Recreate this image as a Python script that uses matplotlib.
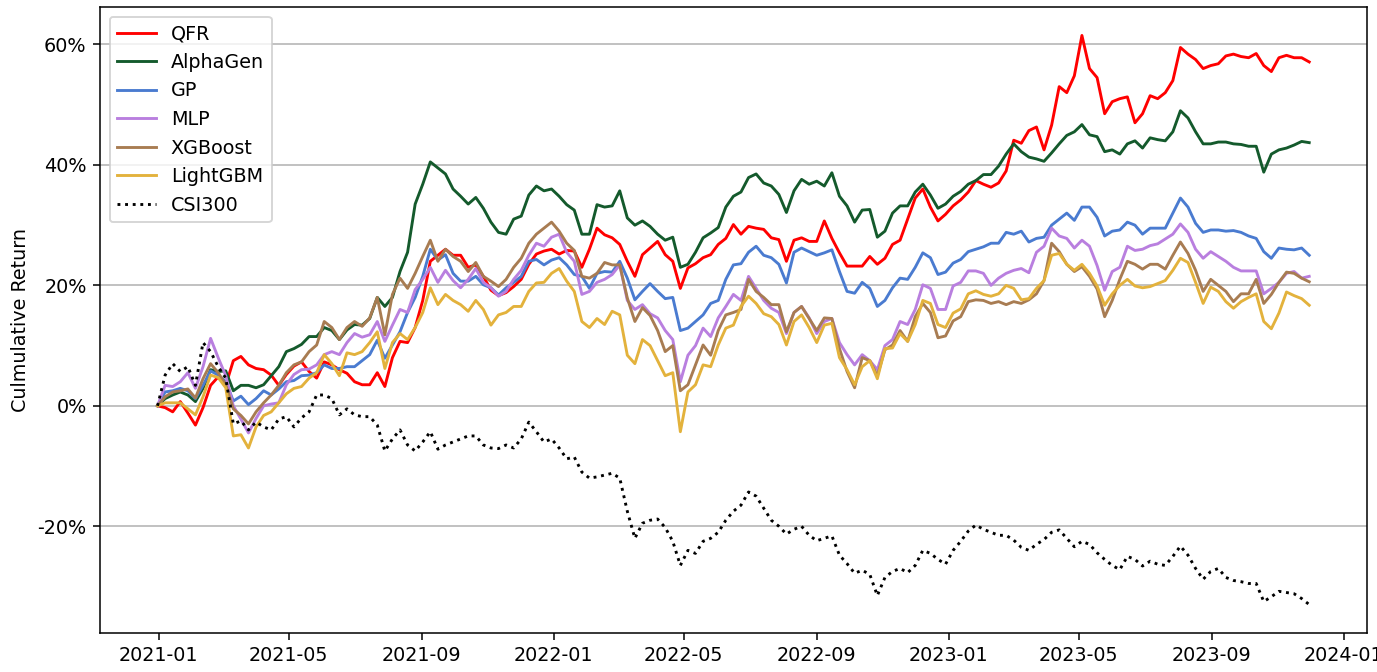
import numpy as np
import pandas as pd
import matplotlib
matplotlib.use("Agg")
import matplotlib.pyplot as plt
import matplotlib.dates as mdates
from matplotlib.ticker import FuncFormatter

# weekly cumulative returns (%)
dates = pd.date_range("2020-12-31", periods=153, freq="7D")

qfr = [0, -0.3, -1.0, 0.7, -1.2, -3.2, -0.3, 3.4, 4.8, 3.4,
       7.5, 8.2, 6.8, 6.2, 6.0, 5.1, 3.4, 5.2, 6.6, 7.3,
       5.7, 4.6, 7.3, 6.8, 6.0, 5.4, 4.0, 3.5, 3.5, 5.5,
       3.2, 8.0, 10.7, 10.5, 13.0, 17.5, 24.0, 25.0, 26.0, 25.0,
       25.0, 23.0, 23.4, 21.5, 19.2, 18.3, 18.8, 19.8, 21.0, 23.5,
       25.2, 25.7, 26.0, 25.2, 25.8, 25.7, 23.0, 26.0, 29.5, 28.4,
       27.9, 26.8, 24.0, 21.5, 25.1, 26.2, 27.3, 25.1, 24.0, 19.5,
       22.9, 23.6, 24.6, 25.1, 26.8, 27.8, 30.1, 28.5, 29.8, 29.5,
       29.3, 27.9, 27.6, 24.0, 27.5, 27.9, 27.3, 27.3, 30.7, 27.8,
       25.4, 23.2, 23.2, 23.2, 24.8, 23.5, 24.5, 26.8, 27.5, 31.0,
       34.5, 36.0, 33.0, 30.7, 31.8, 33.2, 34.2, 35.5, 37.4, 36.8,
       36.3, 37.0, 39.0, 44.1, 43.6, 45.7, 46.3, 42.5, 46.6, 53.0,
       52.0, 54.8, 61.5, 56.0, 54.5, 48.5, 50.5, 51.0, 51.3, 47.0,
       48.5, 51.5, 51.0, 52.0, 54.0, 59.5, 58.4, 57.5, 56.0, 56.5,
       56.8, 58.1, 58.4, 58.0, 57.8, 58.5, 56.5, 55.5, 57.8, 58.2,
       57.8, 57.8, 57.1]

alphagen = [0, 1.2, 1.8, 2.3, 1.8, 0.7, 2.9, 6.0, 5.7, 5.8,
            2.5, 3.4, 3.4, 3.0, 3.5, 5.0, 6.5, 9.0, 9.5, 10.2,
            11.5, 11.5, 13.0, 12.5, 11.0, 12.6, 13.5, 13.4, 14.5, 18.0,
            16.5, 18.0, 22.3, 25.5, 33.5, 36.8, 40.5, 39.5, 38.5, 36.0,
            34.8, 33.5, 34.6, 32.8, 30.5, 28.8, 28.5, 31.0, 31.5, 35.0,
            36.5, 35.7, 36.0, 34.8, 33.4, 32.5, 28.5, 28.5, 33.4, 33.0,
            33.2, 35.7, 31.2, 30.0, 30.7, 29.8, 28.5, 27.5, 28.0, 23.0,
            23.5, 25.5, 27.9, 28.7, 29.6, 33.0, 34.8, 35.5, 37.9, 38.5,
            37.0, 36.5, 35.1, 32.1, 35.7, 37.6, 36.8, 37.3, 36.5, 38.7,
            34.8, 33.2, 30.5, 32.5, 32.6, 28.0, 29.0, 32.0, 33.2, 33.2,
            35.5, 36.8, 35.0, 32.8, 33.5, 34.8, 35.6, 36.8, 37.4, 38.4,
            38.4, 39.8, 41.8, 43.5, 42.2, 41.3, 41.0, 40.6, 42.0, 43.5,
            44.9, 45.5, 46.7, 45.0, 44.7, 42.2, 42.5, 41.8, 43.5, 44.0,
            42.8, 44.5, 44.2, 44.0, 45.5, 49.0, 47.8, 45.5, 43.5, 43.5,
            43.8, 43.8, 43.5, 43.4, 43.1, 43.1, 38.8, 41.8, 42.5, 42.8,
            43.3, 43.9, 43.7]

gp = [0, 2.3, 2.5, 2.9, 2.5, 1.2, 3.4, 5.8, 5.1, 4.0,
      0.8, 1.6, 0.2, 1.2, 2.5, 1.8, 2.8, 4.0, 4.2, 5.0,
      5.1, 5.5, 6.8, 6.2, 6.2, 6.5, 6.5, 7.5, 8.5, 10.9,
      7.9, 10.1, 12.3, 15.5, 18.0, 21.5, 26.0, 24.2, 25.1, 22.0,
      20.7, 20.7, 21.5, 20.1, 19.6, 18.4, 19.6, 20.5, 21.5, 24.0,
      24.3, 23.4, 24.2, 24.6, 23.4, 21.8, 21.5, 19.5, 22.0, 22.3,
      22.2, 24.0, 21.2, 17.6, 19.0, 20.3, 19.0, 17.8, 18.0, 12.5,
      12.9, 14.0, 15.1, 17.0, 17.5, 21.0, 23.4, 23.6, 25.5, 26.5,
      25.0, 24.6, 23.5, 20.4, 25.5, 26.2, 25.6, 25.0, 25.4, 25.9,
      22.3, 19.0, 18.7, 20.5, 19.5, 16.5, 17.5, 19.6, 21.2, 21.0,
      23.0, 25.4, 24.6, 21.8, 22.2, 23.7, 24.3, 25.6, 26.0, 26.4,
      27.0, 27.0, 28.8, 28.5, 29.0, 27.2, 27.8, 28.0, 30.0, 31.0,
      32.0, 30.8, 33.0, 33.0, 31.3, 28.2, 29.0, 29.2, 30.5, 30.0,
      28.5, 29.5, 29.5, 29.5, 32.0, 34.5, 33.0, 30.3, 28.8, 29.2,
      29.2, 29.0, 29.1, 28.8, 28.2, 27.8, 25.6, 24.5, 26.2, 26.0,
      25.9, 26.2, 25.0]

mlp = [0, 3.4, 3.2, 4.0, 5.5, 2.9, 6.5, 11.2, 8.0, 5.0,
       0.0, -2.2, -4.5, -2.1, 0.0, 0.3, 0.5, 3.5, 5.2, 6.0,
       6.1, 6.8, 8.5, 9.0, 8.5, 10.5, 12.0, 11.4, 11.8, 14.0,
       10.7, 13.4, 16.0, 15.5, 19.3, 21.0, 23.0, 20.5, 22.5, 20.8,
       19.6, 21.0, 22.8, 20.5, 19.6, 18.2, 19.0, 21.0, 22.5, 25.0,
       27.0, 26.5, 28.0, 28.5, 25.5, 24.0, 18.5, 19.0, 20.5, 21.0,
       21.8, 23.4, 17.5, 16.0, 16.8, 15.3, 14.6, 12.5, 11.0, 4.0,
       8.4, 10.0, 12.9, 11.5, 14.6, 16.5, 18.5, 17.5, 21.5, 19.5,
       17.5, 16.2, 15.5, 12.0, 15.5, 16.5, 14.6, 12.0, 14.0, 14.5,
       10.5, 8.5, 6.8, 8.5, 7.5, 6.0, 10.0, 11.0, 14.0, 13.5,
       16.0, 20.1, 19.5, 16.0, 16.0, 19.9, 20.5, 22.4, 22.4, 22.0,
       20.0, 21.2, 22.0, 22.5, 22.8, 22.1, 25.5, 26.5, 29.5, 28.2,
       27.8, 26.2, 27.5, 26.5, 23.3, 19.2, 22.3, 23.0, 26.5, 25.8,
       26.0, 26.6, 26.9, 27.7, 28.5, 30.2, 28.8, 26.0, 24.5, 25.6,
       24.8, 24.0, 23.0, 22.4, 22.4, 22.4, 18.6, 19.5, 20.5, 22.0,
       22.3, 21.2, 21.5]

xgboost = [0, 1.5, 2.3, 2.5, 2.8, 1.3, 4.5, 7.0, 5.5, 3.5,
           -0.5, -1.6, -3.0, -1.0, 0.5, 1.8, 3.4, 5.5, 6.8, 7.3,
           9.0, 10.1, 14.0, 13.0, 11.0, 13.0, 14.0, 13.2, 14.6, 18.0,
           11.8, 18.5, 21.2, 19.5, 22.0, 24.8, 27.5, 24.0, 26.0, 24.8,
           24.0, 22.3, 23.8, 21.5, 20.7, 19.8, 21.0, 23.0, 24.5, 27.0,
           28.5, 29.5, 30.5, 29.0, 27.0, 25.8, 21.5, 21.2, 22.0, 23.8,
           23.4, 23.4, 17.9, 14.0, 16.3, 15.0, 12.5, 9.0, 10.0, 2.5,
           3.5, 6.8, 10.1, 8.4, 12.5, 15.1, 15.5, 16.0, 21.0, 19.0,
           18.0, 16.8, 16.8, 12.3, 15.5, 16.5, 14.5, 12.5, 14.6, 14.5,
           9.5, 5.7, 3.0, 8.0, 7.5, 5.0, 9.3, 10.1, 12.5, 10.7,
           14.8, 17.0, 15.5, 11.3, 11.6, 14.1, 14.8, 17.3, 17.6, 17.5,
           17.0, 17.3, 16.8, 17.3, 17.0, 17.6, 18.6, 20.8, 27.0, 25.6,
           23.5, 22.3, 23.1, 21.5, 19.4, 14.8, 17.5, 21.0, 24.0, 23.5,
           22.7, 23.5, 23.5, 22.7, 25.0, 27.2, 25.3, 22.5, 19.0, 21.0,
           20.0, 19.0, 17.3, 18.6, 18.6, 21.0, 17.0, 18.5, 20.5, 22.2,
           22.0, 21.2, 20.6]

lightgbm = [0, 0.5, 0.5, 0.5, -0.5, -1.5, 1.5, 5.1, 4.7, 3.0,
            -5.0, -4.8, -7.0, -3.5, -1.6, -1.0, 0.5, 2.0, 2.9, 3.2,
            4.6, 5.5, 8.5, 7.0, 5.0, 8.8, 8.5, 9.0, 10.5, 12.3,
            6.2, 10.5, 12.0, 11.0, 13.0, 15.5, 19.6, 16.8, 18.5, 17.5,
            16.8, 15.7, 17.5, 16.0, 13.4, 15.1, 15.5, 16.5, 16.5, 19.0,
            20.4, 20.5, 22.0, 22.8, 20.7, 19.0, 14.0, 13.0, 14.5, 13.5,
            15.7, 15.1, 8.4, 7.0, 11.0, 10.0, 7.5, 5.0, 5.5, -4.3,
            2.3, 3.5, 6.8, 6.5, 10.1, 12.9, 13.4, 16.5, 18.2, 17.0,
            15.3, 14.8, 13.5, 10.1, 14.0, 15.1, 13.0, 10.5, 13.4, 13.7,
            8.0, 6.0, 3.5, 6.5, 7.5, 4.5, 9.5, 9.6, 12.0, 10.7,
            13.5, 17.5, 17.0, 13.5, 13.0, 15.4, 16.1, 18.6, 19.1, 18.5,
            18.2, 18.6, 20.0, 19.5, 17.6, 17.8, 19.5, 20.8, 25.0, 25.3,
            23.5, 22.5, 23.5, 22.0, 19.9, 16.7, 18.6, 20.0, 21.0, 19.9,
            19.6, 19.8, 20.3, 20.8, 22.5, 24.5, 23.8, 20.5, 17.0, 19.7,
            19.0, 17.3, 16.2, 17.3, 18.0, 18.6, 14.0, 12.8, 15.4, 18.9,
            18.3, 17.8, 16.7]

csi300 = [0, 5.1, 7.0, 5.7, 6.5, 3.4, 10.5, 9.0, 6.5, 4.6,
          -3.0, -2.5, -4.0, -2.7, -3.5, -4.0, -2.2, -1.8, -3.5, -2.0,
          -1.0, 1.8, 1.8, 1.2, -1.5, -0.5, -1.5, -1.8, -1.8, -3.2,
          -7.5, -5.5, -4.0, -6.5, -7.5, -6.0, -4.3, -7.2, -6.5, -6.0,
          -5.5, -5.0, -5.0, -6.5, -7.0, -7.1, -6.5, -7.0, -5.5, -2.7,
          -4.3, -6.0, -5.5, -7.0, -8.8, -8.5, -11.0, -12.0, -11.8, -11.5,
          -11.2, -12.0, -17.5, -22.0, -19.5, -19.0, -18.8, -20.2, -22.5, -26.5,
          -24.0, -24.5, -22.5, -22.0, -21.0, -19.0, -17.5, -16.5, -14.3, -15.0,
          -17.0, -19.0, -20.0, -21.3, -20.5, -20.0, -21.5, -22.4, -22.0, -21.6,
          -24.8, -26.2, -27.8, -27.3, -28.0, -31.5, -28.5, -27.5, -27.0, -27.7,
          -26.5, -24.0, -24.5, -25.5, -26.3, -24.0, -22.5, -20.8, -19.8, -20.5,
          -21.0, -21.5, -21.5, -22.3, -23.5, -24.0, -23.0, -22.2, -21.0, -20.6,
          -22.0, -23.4, -22.5, -23.0, -24.4, -25.5, -26.5, -27.2, -25.0, -25.5,
          -26.6, -25.8, -26.3, -26.5, -25.0, -23.3, -24.8, -27.0, -28.8, -27.5,
          -27.0, -28.5, -29.0, -29.2, -29.5, -29.5, -32.5, -31.7, -30.8, -31.0,
          -31.2, -32.0, -33.0]

names = ["QFR", "AlphaGen", "GP", "MLP", "XGBoost", "LightGBM"]
series = [qfr, alphagen, gp, mlp, xgboost, lightgbm]
colors = ["#ff0000", "#145a2c", "#4a7bd0", "#b97fdf", "#a87c52", "#e3b23c"]

fig = plt.figure(figsize=(1377 / 138, 672 / 138), dpi=138)
ax = fig.add_axes([0.0726, 0.058, 0.9200, 0.9316])

for name, vals, c in zip(names, series, colors):
    ax.plot(dates, vals, color=c, lw=1.5, label=name)
ax.plot(dates, csi300, color="black", lw=1.5, ls=":", label="CSI300")

ax.xaxis.set_major_locator(mdates.MonthLocator(bymonth=[1, 5, 9]))
ax.xaxis.set_major_formatter(mdates.DateFormatter("%Y-%m"))
ax.set_yticks([-20, 0, 20, 40, 60])
ax.yaxis.set_major_formatter(FuncFormatter(lambda v, p: f"{v:.0f}%"))
ax.set_ylabel("Culmulative Return")
ax.grid(axis="y")
ax.legend(loc="upper left")

fig.savefig("out.png", dpi=138)
